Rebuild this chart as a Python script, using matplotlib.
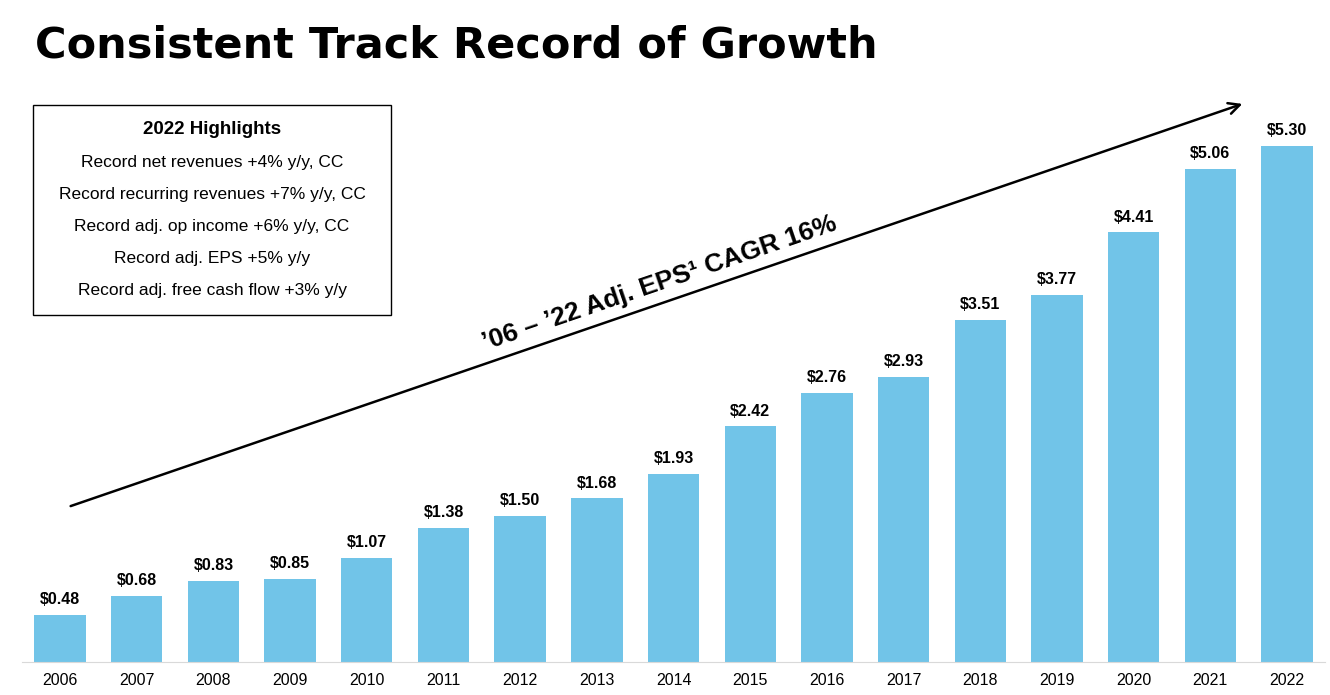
import matplotlib
matplotlib.use('Agg')
import matplotlib.pyplot as plt
from matplotlib.patches import Rectangle

years = ['2006', '2007', '2008', '2009', '2010', '2011', '2012', '2013', '2014',
         '2015', '2016', '2017', '2018', '2019', '2020', '2021', '2022']
eps = [0.48, 0.68, 0.83, 0.85, 1.07, 1.38, 1.50, 1.68, 1.93,
       2.42, 2.76, 2.93, 3.51, 3.77, 4.41, 5.06, 5.30]
highlights = ['Record net revenues +4% y/y, CC',
              'Record recurring revenues +7% y/y, CC',
              'Record adj. op income +6% y/y, CC',
              'Record adj. EPS +5% y/y',
              'Record adj. free cash flow +3% y/y']

plt.rcParams['font.family'] = ['Liberation Sans', 'DejaVu Sans']
W, H = 1330, 695
fig = plt.figure(figsize=(13.3, 6.95), dpi=100)

def fx(px):
    return px / W

def fy(py):
    return 1 - py / H

ax = fig.add_axes([21.7 / W, 33 / H, 1303.7 / W, 584.4 / H])
x = range(len(years))
ax.bar(x, eps, width=0.67, color='#71c4e8')
for i, v in enumerate(eps):
    ax.text(i, v + 0.08, f'${v:.2f}', ha='center', va='bottom', fontsize=11.5, fontweight='bold')
ax.set_xlim(-0.5, len(years) - 0.5)
ax.set_ylim(0, 6)
ax.set_xticks(list(x))
ax.set_xticklabels(years, fontsize=11.5)
ax.tick_params(length=0, pad=8)
ax.set_yticks([])
for s in ['top', 'right', 'left']:
    ax.spines[s].set_visible(False)
ax.spines['bottom'].set_color('#d9d9d9')

fig.text(fx(35), fy(45), 'Consistent Track Record of Growth', fontsize=31,
         fontweight='heavy', va='center', ha='left', family=['DejaVu Sans'])

fig.add_artist(Rectangle((fx(33), fy(315)), fx(391) - fx(33), fy(105) - fy(315),
                         transform=fig.transFigure, fill=False, edgecolor='black', lw=1))
fig.text(fx(212), fy(129), '2022 Highlights', fontsize=13.5, fontweight='bold', ha='center', va='center')
for i, t in enumerate(highlights):
    fig.text(fx(212), fy(162 + 32 * i), t, fontsize=12.5, ha='center', va='center')

fig.add_artist(plt.Annotation('', xy=(fx(1245), fy(103)), xytext=(fx(68), fy(507)),
                              xycoords='figure fraction', textcoords='figure fraction',
                              arrowprops=dict(arrowstyle='->', lw=1.8, color='black',
                                              mutation_scale=20)))
fig.text(fx(660), fy(283), '\u201906 \u2013 \u201922 Adj. EPS\u00b9 CAGR 16%', fontsize=19,
         fontweight='bold', rotation=18.9, rotation_mode='anchor', ha='center', va='center')

fig.savefig('out.png', dpi=100)
